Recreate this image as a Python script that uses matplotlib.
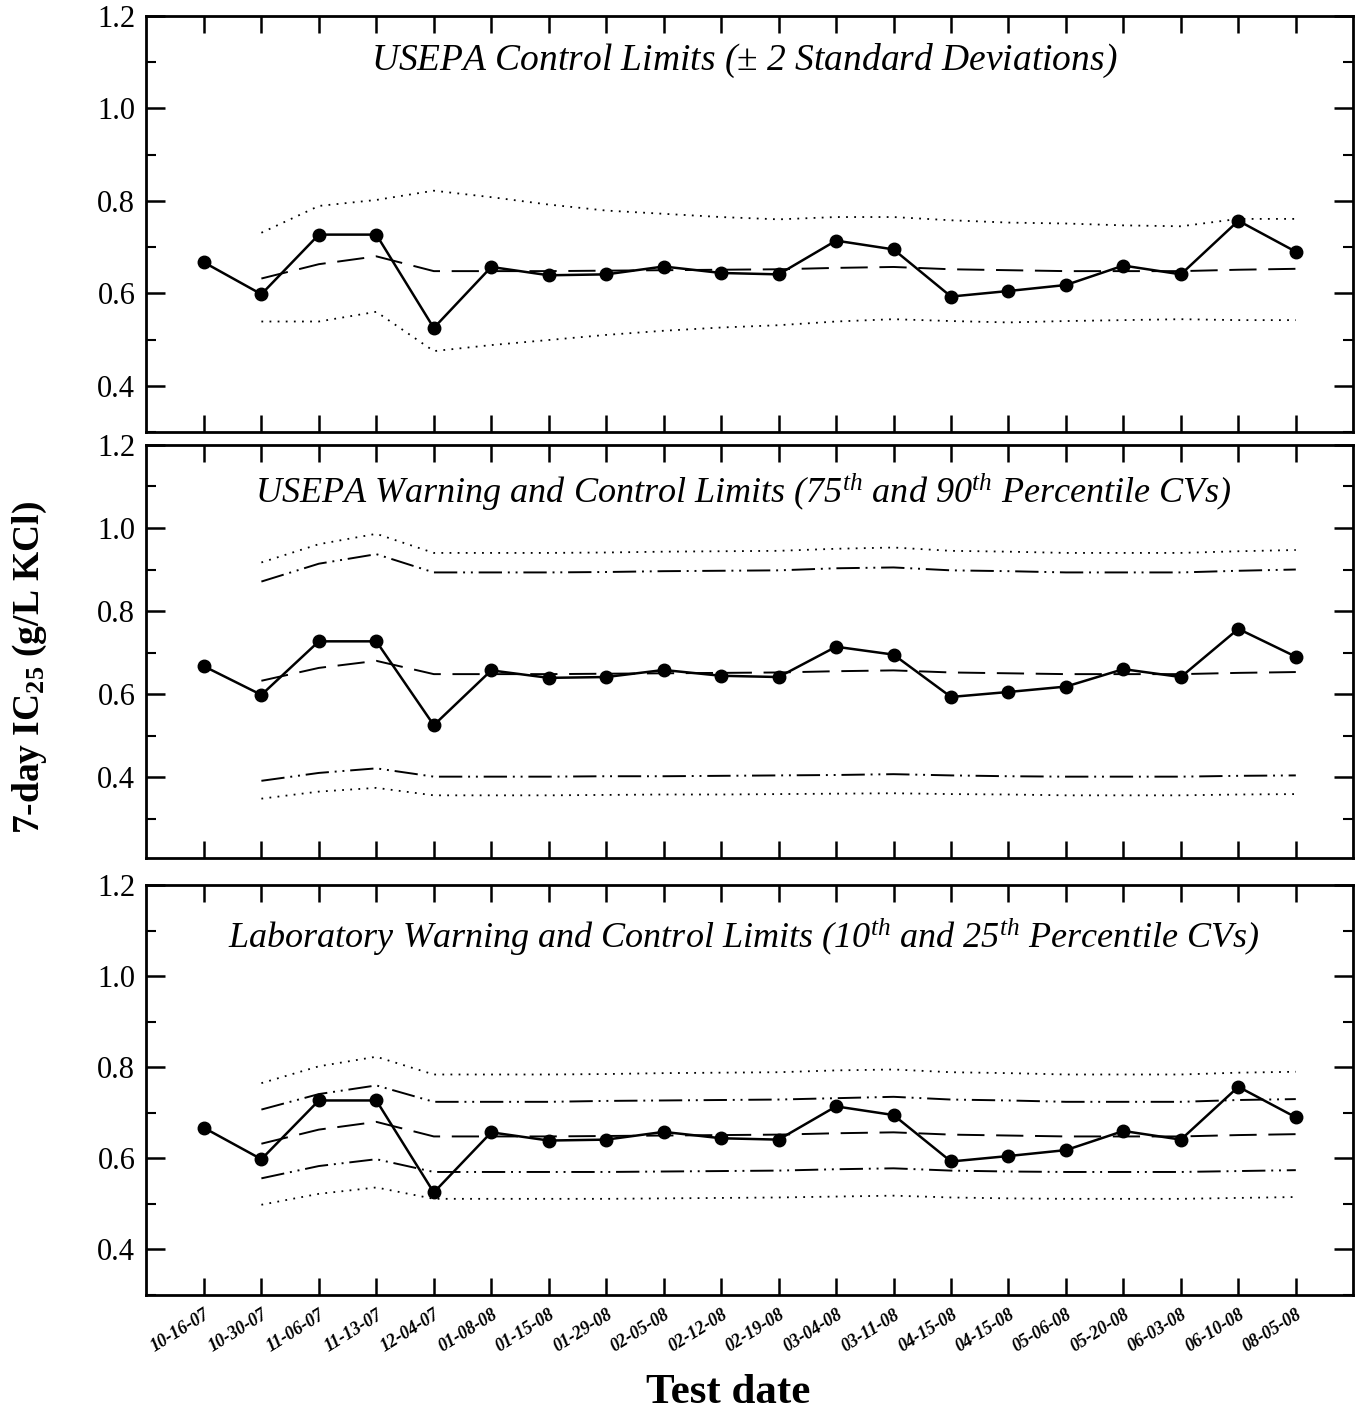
import numpy as np
import matplotlib
matplotlib.use('Agg')
import matplotlib.pyplot as plt

plt.rcParams['font.family'] = ['Liberation Serif', 'DejaVu Serif']
plt.rcParams['mathtext.fontset'] = 'custom'
plt.rcParams['mathtext.rm'] = 'Liberation Serif'
plt.rcParams['mathtext.it'] = 'Liberation Serif:italic'
plt.rcParams['mathtext.bf'] = 'Liberation Serif:bold'

# test dates (x categories)
dates = ['10-16-07', '10-30-07', '11-06-07', '11-13-07', '12-04-07', '01-08-08', '01-15-08',
         '01-29-08', '02-05-08', '02-12-08', '02-19-08', '03-04-08', '03-11-08', '04-15-08',
         '04-15-08', '05-06-08', '05-20-08', '06-03-08', '06-10-08', '08-05-08']

# 7-day IC25 values (g/L KCl)
ic25 = [0.667, 0.598, 0.727, 0.727, 0.525, 0.657, 0.639, 0.641, 0.658, 0.644,
        0.641, 0.714, 0.695, 0.593, 0.605, 0.618, 0.660, 0.641, 0.757, 0.690]

# running mean, starts at the 2nd test date
mean = [0.632, 0.663, 0.680, 0.648, 0.648, 0.648, 0.649, 0.650, 0.651, 0.652,
        0.655, 0.657, 0.652, 0.650, 0.648, 0.648, 0.648, 0.651, 0.653]

# panel 1: +/- 2 SD
sd_up = [0.731, 0.789, 0.802, 0.822, 0.808, 0.792, 0.779, 0.772, 0.765, 0.760,
         0.765, 0.765, 0.758, 0.753, 0.751, 0.747, 0.745, 0.761, 0.761]
sd_lo = [0.539, 0.539, 0.560, 0.475, 0.488, 0.499, 0.510, 0.519, 0.526, 0.531,
         0.539, 0.544, 0.540, 0.537, 0.540, 0.542, 0.544, 0.542, 0.542]

# panel 2: USEPA 75th / 90th percentile CVs
epa_ctrl_up = [0.917, 0.961, 0.986, 0.940, 0.940, 0.940, 0.941, 0.943, 0.944, 0.945,
               0.950, 0.953, 0.945, 0.943, 0.940, 0.940, 0.940, 0.944, 0.947]
epa_warn_up = [0.871, 0.914, 0.937, 0.893, 0.893, 0.893, 0.894, 0.896, 0.897, 0.898,
               0.903, 0.905, 0.898, 0.896, 0.893, 0.893, 0.893, 0.897, 0.900]
epa_warn_lo = [0.391, 0.410, 0.421, 0.401, 0.401, 0.401, 0.402, 0.402, 0.403, 0.404,
               0.405, 0.407, 0.404, 0.402, 0.401, 0.401, 0.401, 0.403, 0.404]
epa_ctrl_lo = [0.348, 0.365, 0.374, 0.356, 0.356, 0.356, 0.357, 0.358, 0.358, 0.359,
               0.360, 0.361, 0.359, 0.358, 0.356, 0.356, 0.356, 0.358, 0.359]

# panel 3: laboratory 10th / 25th percentile CVs
lab_ctrl_up = [0.765, 0.802, 0.823, 0.784, 0.784, 0.784, 0.785, 0.787, 0.788, 0.789,
               0.793, 0.795, 0.789, 0.787, 0.784, 0.784, 0.784, 0.788, 0.790]
lab_warn_up = [0.707, 0.741, 0.760, 0.724, 0.724, 0.724, 0.726, 0.727, 0.728, 0.729,
               0.732, 0.735, 0.729, 0.727, 0.724, 0.724, 0.724, 0.728, 0.730]
lab_warn_lo = [0.556, 0.583, 0.598, 0.570, 0.570, 0.570, 0.570, 0.571, 0.572, 0.573,
               0.576, 0.578, 0.573, 0.571, 0.570, 0.570, 0.570, 0.572, 0.574]
lab_ctrl_lo = [0.498, 0.522, 0.536, 0.511, 0.511, 0.511, 0.511, 0.512, 0.513, 0.514,
               0.516, 0.518, 0.514, 0.512, 0.511, 0.511, 0.511, 0.513, 0.515]

x = np.arange(len(dates))
xl = x[1:]

DOT = (0, (1, 3.5))
DASH = (0, (14, 6))
DASHDOTDOT = (0, (12, 3, 1, 3, 1, 3))

fig = plt.figure(figsize=(13.56, 14.14), dpi=100)
left, right = 0.108, 0.998
boxes = [(0.6945, 0.9887), (0.3932, 0.6853), (0.0842, 0.3741)]
ylims = [(0.305, 1.2), (0.205, 1.2), (0.30, 1.2)]
titles = [r'USEPA Control Limits ($\pm$ 2 Standard Deviations)',
          r'USEPA Warning and Control Limits (75$^{th}$ and 90$^{th}$ Percentile CVs)',
          r'Laboratory Warning and Control Limits (10$^{th}$ and 25$^{th}$ Percentile CVs)']
title_y = [0.893, 0.885, 0.872]
title_size = [27, 26, 26]

axes = []
for i, (b, t) in enumerate(boxes):
    ax = fig.add_axes([left, b, right - left, t - b])
    axes.append(ax)
    ax.plot(x, ic25, '-o', color='black', lw=1.8, ms=9, zorder=5)
    ax.plot(xl, mean, color='black', lw=1.4, linestyle=DASH)
    ax.set_xlim(-1, 20)
    ax.set_ylim(*ylims[i])
    ax.set_xticks(x)
    ax.set_yticks([0.4, 0.6, 0.8, 1.0, 1.2])
    ax.set_yticks([0.3, 0.5, 0.7, 0.9, 1.1], minor=True)
    ax.tick_params(axis='both', which='major', direction='in', length=14, width=1.8,
                   top=True, right=True, labelsize=22)
    ax.tick_params(axis='y', which='minor', direction='in', length=7, width=1.5,
                   right=True)
    ax.tick_params(axis='x', which='major', length=12)
    ax.tick_params(axis='y', which='major', pad=8)
    ax.set_yticklabels(['0.4', '0.6', '0.8', '1.0', '1.2'])
    for s in ax.spines.values():
        s.set_linewidth(2)
    ax.text(0.495, title_y[i], titles[i], transform=ax.transAxes, ha='center', va='center',
            fontsize=title_size[i], style='italic')
    if i < 2:
        ax.set_xticklabels([])

ax1, ax2, ax3 = axes
ax1.plot(xl, sd_up, color='black', lw=1.3, linestyle=DOT)
ax1.plot(xl, sd_lo, color='black', lw=1.3, linestyle=DOT)

ax2.plot(xl, epa_ctrl_up, color='black', lw=1.3, linestyle=DOT)
ax2.plot(xl, epa_warn_up, color='black', lw=1.4, linestyle=DASHDOTDOT)
ax2.plot(xl, epa_warn_lo, color='black', lw=1.4, linestyle=DASHDOTDOT)
ax2.plot(xl, epa_ctrl_lo, color='black', lw=1.3, linestyle=DOT)

ax3.plot(xl, lab_ctrl_up, color='black', lw=1.3, linestyle=DOT)
ax3.plot(xl, lab_warn_up, color='black', lw=1.4, linestyle=DASHDOTDOT)
ax3.plot(xl, lab_warn_lo, color='black', lw=1.4, linestyle=DASHDOTDOT)
ax3.plot(xl, lab_ctrl_lo, color='black', lw=1.3, linestyle=DOT)

ax3.set_xticklabels(dates, rotation=32, ha='right', rotation_mode='anchor',
                    fontsize=13, fontweight='bold', style='italic')
ax3.tick_params(axis='x', pad=8)

fig.text(0.537, 1 - 1393 / 1414, 'Test date', ha='center', va='center', fontsize=31,
         fontweight='bold')
fig.text(0.022, 0.528, r'7-day IC$_{\mathbf{25}}$ (g/L KCl)', rotation=90, ha='center',
         va='center', fontsize=27, fontweight='bold')

fig.savefig('out.png', dpi=100)
